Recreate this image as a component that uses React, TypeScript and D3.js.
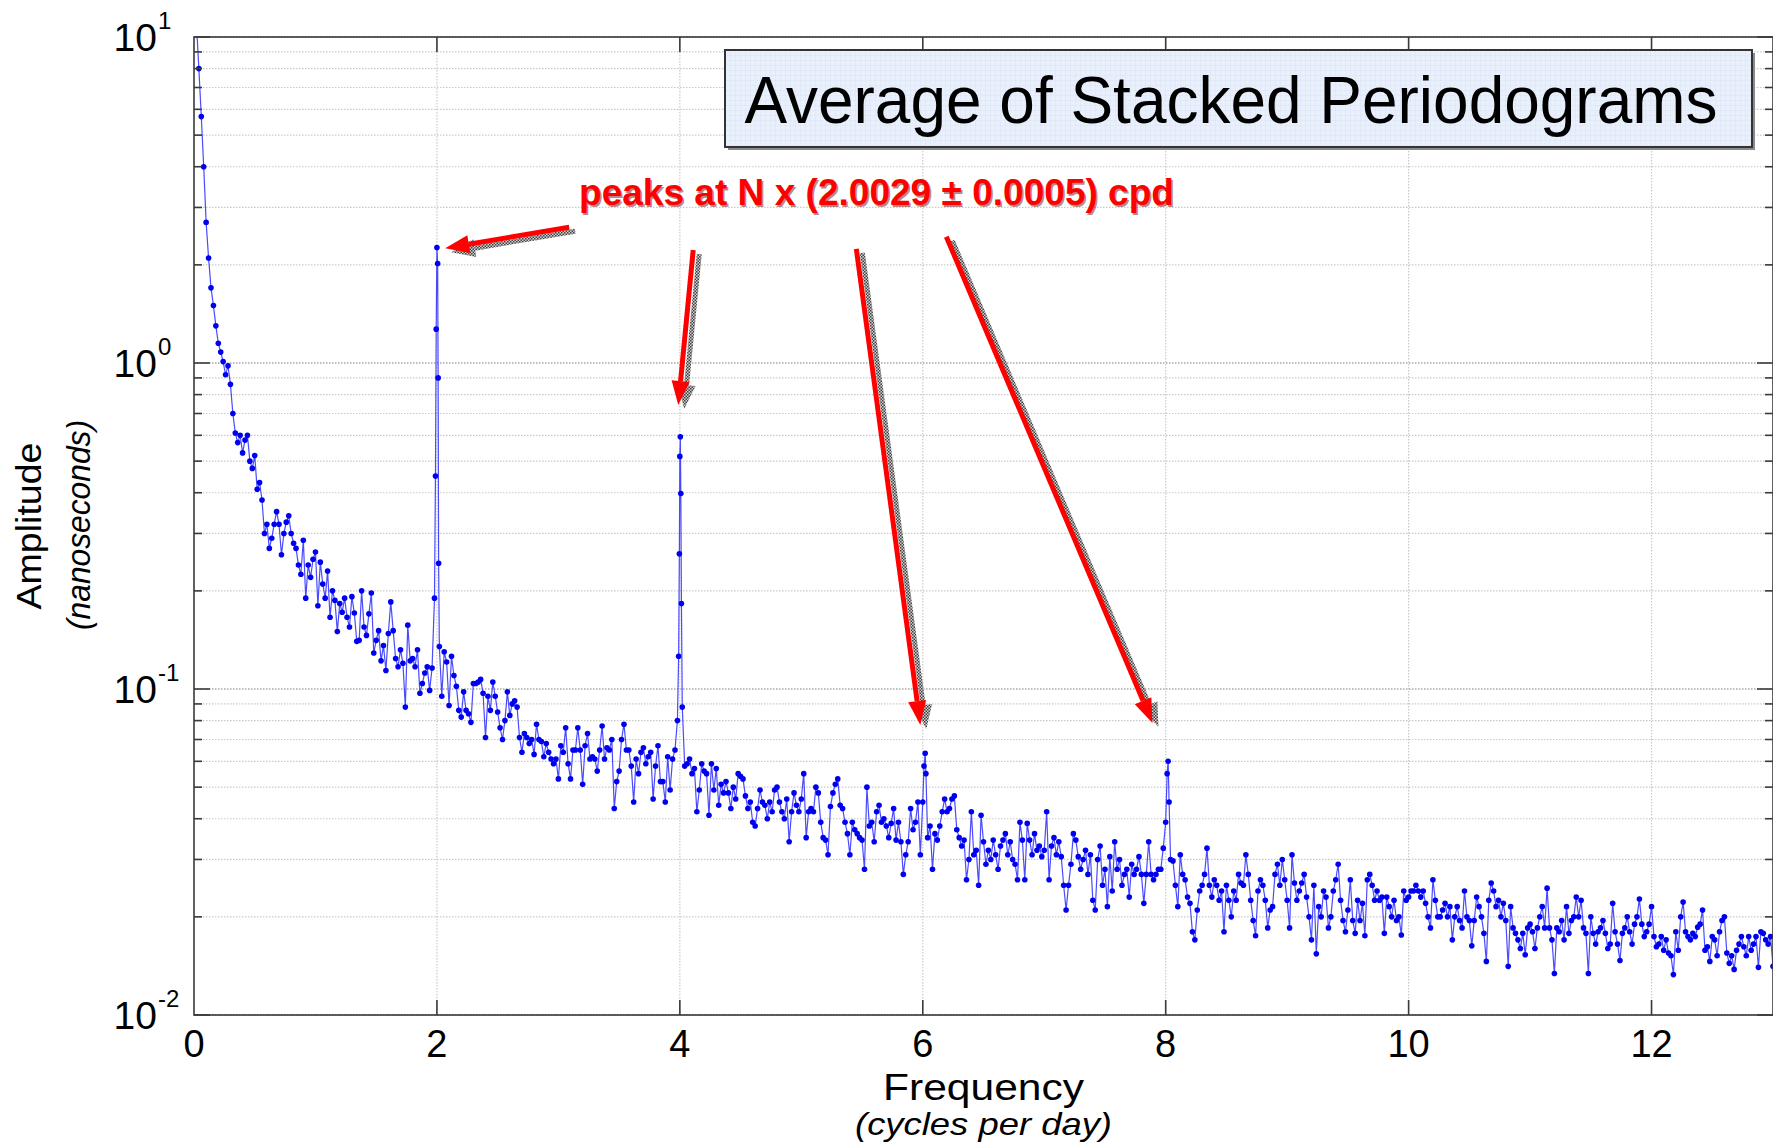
import React from "react";
import * as d3 from "d3";

// ---------------- data ----------------
const FREQ_STEP = 0.02; // cycles per day between samples, amplitude[i] is at i * FREQ_STEP

const amplitude: number[] = [
  16, 11, 8.0, 5.7, 4.0, 2.7, 2.1, 1.7, 1.5, 1.3,
  1.15, 1.08, 1.01, 0.92, 0.98, 0.86, 0.70, 0.61, 0.57, 0.60,
  0.53, 0.58, 0.60, 0.50, 0.475, 0.52, 0.41, 0.43, 0.38, 0.30,
  0.32, 0.27, 0.29, 0.32, 0.35, 0.32, 0.258, 0.30, 0.325, 0.34,
  0.30, 0.28, 0.27, 0.24, 0.225, 0.286, 0.19, 0.24, 0.22, 0.25,
  0.263, 0.18, 0.245, 0.21, 0.19, 0.23, 0.166, 0.20, 0.187, 0.15,
  0.183, 0.172, 0.19, 0.166, 0.155, 0.192, 0.171, 0.14, 0.141, 0.20,
  0.155, 0.146, 0.17, 0.197, 0.129, 0.141, 0.151, 0.122, 0.136, 0.114,
  0.148, 0.185, 0.151, 0.124, 0.117, 0.132, 0.12, 0.088, 0.157, 0.122,
  0.124, 0.117, 0.132, 0.097, 0.104, 0.112, 0.117, 0.099, 0.116, 0.19,
  2.26, 0.135, 0.095, 0.13, 0.121, 0.089, 0.126, 0.11, 0.102, 0.086,
  0.082, 0.098, 0.086, 0.084, 0.079, 0.104, 0.104, 0.105, 0.107, 0.097,
  0.071, 0.095, 0.086, 0.105, 0.095, 0.085, 0.076, 0.07, 0.08, 0.098,
  0.083, 0.09, 0.092, 0.088, 0.071, 0.064, 0.073, 0.071, 0.068, 0.07,
  0.063, 0.078, 0.07, 0.069, 0.062, 0.068, 0.064, 0.061, 0.059, 0.061,
  0.053, 0.067, 0.064, 0.076, 0.059, 0.053, 0.065, 0.065, 0.076, 0.065,
  0.051, 0.067, 0.073, 0.061, 0.062, 0.061, 0.056, 0.065, 0.077, 0.061,
  0.066, 0.065, 0.07, 0.043, 0.052, 0.056, 0.07, 0.078, 0.065, 0.065,
  0.058, 0.045, 0.061, 0.055, 0.064, 0.066, 0.059, 0.062, 0.064, 0.046,
  0.058, 0.067, 0.052, 0.052, 0.045, 0.062, 0.049, 0.061, 0.065, 0.08,
  0.517, 0.088, 0.058, 0.059, 0.061, 0.055, 0.057, 0.042, 0.049, 0.059,
  0.056, 0.055, 0.041, 0.059, 0.049, 0.057, 0.044, 0.051, 0.048, 0.052,
  0.048, 0.043, 0.05, 0.046, 0.055, 0.054, 0.053, 0.047, 0.043, 0.045,
  0.039, 0.038, 0.043, 0.049, 0.045, 0.044, 0.04, 0.045, 0.042, 0.049,
  0.05, 0.045, 0.042, 0.04, 0.046, 0.034, 0.042, 0.048, 0.044, 0.042,
  0.046, 0.055, 0.035, 0.042, 0.043, 0.042, 0.05, 0.048, 0.039, 0.035,
  0.0344, 0.031, 0.0436, 0.048, 0.051, 0.053, 0.044, 0.043, 0.039, 0.036,
  0.031, 0.039, 0.037, 0.036, 0.035, 0.0344, 0.028, 0.05, 0.038, 0.039,
  0.034, 0.042, 0.044, 0.039, 0.04, 0.038, 0.035, 0.0387, 0.043, 0.0344,
  0.039, 0.034, 0.027, 0.031, 0.034, 0.043, 0.037, 0.039, 0.045, 0.031,
  0.045, 0.0635, 0.035, 0.038, 0.028, 0.036, 0.0344, 0.038, 0.042, 0.046,
  0.042, 0.043, 0.046, 0.047, 0.037, 0.035, 0.033, 0.0344, 0.026, 0.03,
  0.042, 0.031, 0.032, 0.025, 0.041, 0.034, 0.029, 0.032, 0.03, 0.0344,
  0.031, 0.028, 0.033, 0.0344, 0.036, 0.031, 0.034, 0.03, 0.029, 0.026,
  0.039, 0.0344, 0.026, 0.0387, 0.0344, 0.031, 0.036, 0.032, 0.033, 0.0306,
  0.032, 0.042, 0.026, 0.033, 0.035, 0.031, 0.034, 0.0306, 0.025, 0.021,
  0.025, 0.029, 0.036, 0.0344, 0.0306, 0.028, 0.03, 0.032, 0.027, 0.031,
  0.0225, 0.021, 0.03, 0.033, 0.025, 0.028, 0.0215, 0.0306, 0.024, 0.034,
  0.028, 0.03, 0.025, 0.027, 0.028, 0.023, 0.029, 0.027, 0.028, 0.0306,
  0.027, 0.022, 0.027, 0.034, 0.027, 0.026, 0.027, 0.028, 0.028, 0.0325,
  0.039, 0.06, 0.03, 0.0297, 0.025, 0.0215, 0.031, 0.027, 0.026, 0.023,
  0.022, 0.018, 0.017, 0.021, 0.024, 0.025, 0.027, 0.0325, 0.025, 0.023,
  0.026, 0.025, 0.0225, 0.024, 0.018, 0.025, 0.0225, 0.02, 0.024, 0.0225,
  0.027, 0.0254, 0.025, 0.031, 0.027, 0.0225, 0.0195, 0.0175, 0.024, 0.026,
  0.025, 0.0225, 0.0185, 0.021, 0.0215, 0.027, 0.029, 0.025, 0.03, 0.026,
  0.0225, 0.0185, 0.031, 0.0254, 0.0225, 0.024, 0.0254, 0.027, 0.023, 0.02,
  0.017, 0.025, 0.0154, 0.0215, 0.02, 0.024, 0.023, 0.0185, 0.02, 0.024,
  0.026, 0.029, 0.0225, 0.0195, 0.018, 0.021, 0.026, 0.0195, 0.0178, 0.0225,
  0.0195, 0.022, 0.0175, 0.026, 0.027, 0.025, 0.0225, 0.024, 0.0225, 0.023,
  0.0178, 0.023, 0.0215, 0.02, 0.0225, 0.0195, 0.02, 0.0176, 0.024, 0.0225,
  0.023, 0.024, 0.024, 0.025, 0.024, 0.023, 0.024, 0.022, 0.02, 0.0185,
  0.026, 0.0225, 0.02, 0.02, 0.021, 0.022, 0.02, 0.0215, 0.017, 0.02,
  0.0215, 0.0195, 0.0185, 0.024, 0.02, 0.0195, 0.0163, 0.0195, 0.023, 0.0215,
  0.02, 0.0178, 0.0146, 0.0225, 0.0254, 0.024, 0.0215, 0.0225, 0.02, 0.022,
  0.0195, 0.0141, 0.0215, 0.0185, 0.0178, 0.017, 0.016, 0.0178, 0.0153, 0.0185,
  0.019, 0.018, 0.016, 0.0185, 0.02, 0.0215, 0.0185, 0.0245, 0.0185, 0.017,
  0.0134, 0.0185, 0.018, 0.0195, 0.017, 0.0215, 0.0178, 0.0195, 0.02, 0.023,
  0.02, 0.0225, 0.0185, 0.0178, 0.0134, 0.02, 0.0178, 0.0165, 0.018, 0.0185,
  0.0195, 0.0178, 0.016, 0.0165, 0.022, 0.018, 0.0165, 0.0147, 0.0178, 0.0185,
  0.02, 0.018, 0.0165, 0.019, 0.02, 0.0227, 0.019, 0.0174, 0.018, 0.019,
  0.0215, 0.0174, 0.0162, 0.0165, 0.0174, 0.0158, 0.017, 0.0155, 0.0152, 0.0133,
  0.018, 0.0158, 0.02, 0.0222, 0.018, 0.0174, 0.017, 0.0178, 0.0174, 0.0186,
  0.019, 0.021, 0.0158, 0.0162, 0.0146, 0.0174, 0.017, 0.0152, 0.018, 0.0195,
  0.02, 0.0155, 0.0144, 0.0152, 0.0138, 0.0158, 0.0165, 0.0174, 0.0162, 0.0152,
  0.0174, 0.0158, 0.0165, 0.0174, 0.014, 0.018, 0.0178, 0.017, 0.0165, 0.0174, 0.0141,
];

// extra samples on the narrow peaks (frequency in cpd, amplitude in ns)
const peakFreqs = [1.988, 1.994, 2.006, 2.010, 2.014, 3.990, 3.996, 4.004, 4.008, 4.013, 6.010, 6.026, 8.012, 8.028];
const peakAmps = [0.45, 1.27, 2.02, 0.9, 0.243, 0.126, 0.26, 0.594, 0.398, 0.183, 0.058, 0.055, 0.055, 0.045];

const xTicks = [0, 2, 4, 6, 8, 10, 12];
const yDecades = [-2, -1, 0, 1];

const titleText = "Average of Stacked Periodograms";
const noteText = "peaks at N x (2.0029 \u00b1 0.0005) cpd";
// annotation arrows, data coordinates [freq, amplitude]
const arrowTails = [[3.089, 2.61], [4.11, 2.22], [5.453, 2.24], [6.194, 2.44]];
const arrowTips = [[2.068, 2.25], [3.987, 0.743], [5.98, 0.0776], [7.891, 0.0787]];

// ---------------- layout ----------------
const W = 1773;
const H = 1145;
const M = { left: 194, right: 1773, top: 37, bottom: 1015 };
const FONT = "'Liberation Sans', Arial, Helvetica, sans-serif";

type Pt = { f: number; a: number };

export default function App() {
  const x = d3.scaleLinear().domain([0, 13]).range([M.left, M.right]);
  const y = d3.scaleLog().domain([0.01, 10]).range([M.bottom, M.top]);

  const pts: Pt[] = amplitude
    .map((a, i) => ({ f: +(i * FREQ_STEP).toFixed(4), a }))
    .concat(peakFreqs.map((f, i) => ({ f, a: peakAmps[i] })))
    .sort((p, q) => p.f - q.f);

  const line = d3
    .line<Pt>()
    .x((d) => x(d.f))
    .y((d) => y(d.a));

  const minorVals: number[] = [];
  const majorVals: number[] = [];
  yDecades.forEach((d) => {
    majorVals.push(Math.pow(10, d));
    if (d < 1) for (let k = 2; k <= 9; k++) minorVals.push(k * Math.pow(10, d));
  });

  const plotW = M.right - M.left;
  const plotH = M.bottom - M.top;

  // arrows
  const arrows = arrowTails.map((t, i) => {
    const x1 = x(t[0]);
    const y1 = y(t[1]);
    const x2 = x(arrowTips[i][0]);
    const y2 = y(arrowTips[i][1]);
    const dx = x2 - x1;
    const dy = y2 - y1;
    const len = Math.hypot(dx, dy);
    const ux = dx / len;
    const uy = dy / len;
    const L = 24;
    const hw = 9;
    const bx = x2 - ux * L;
    const by = y2 - uy * L;
    const head = [
      [x2, y2],
      [bx - uy * hw, by + ux * hw],
      [bx + uy * hw, by - ux * hw],
    ];
    return { x1, y1, bx, by, head };
  });
  const SH = { dx: 6, dy: 4 };

  return (
    <svg
      width={W}
      height={H}
      viewBox={`0 0 ${W} ${H}`}
      style={{ position: "absolute", left: 0, top: 0, display: "block", background: "#fff" }}
      fontFamily={FONT}
    >
      <defs>
        <clipPath id="plotClip">
          <rect x={M.left} y={M.top} width={plotW} height={plotH} />
        </clipPath>
        <pattern id="boxGrid" width="5" height="5" patternUnits="userSpaceOnUse">
          <rect width="5" height="5" fill="#e9f0fc" />
          <path d="M5 0 L0 0 0 5" fill="none" stroke="#d5e1f5" strokeWidth="0.8" />
        </pattern>
        <pattern id="checker" width="3" height="3" patternUnits="userSpaceOnUse">
          <rect width="3" height="3" fill="#d0d0d0" />
          <rect width="1.5" height="1.5" fill="#404040" />
          <rect x="1.5" y="1.5" width="1.5" height="1.5" fill="#404040" />
        </pattern>
      </defs>

      <rect x={0} y={0} width={W} height={H} fill="#fff" />

      {/* grid */}
      <g fill="none">
        {minorVals.map((v, i) => (
          <line key={"gm" + i} x1={M.left} x2={M.right} y1={y(v)} y2={y(v)} stroke="#c9c9c9" strokeWidth={1.2} strokeDasharray="1.5 1.5" />
        ))}
        {majorVals.map((v, i) => (
          <line key={"gM" + i} x1={M.left} x2={M.right} y1={y(v)} y2={y(v)} stroke="#a8a8a8" strokeWidth={1.3} strokeDasharray="1.5 1.5" />
        ))}
        {xTicks.slice(1).map((t) => (
          <line key={"gx" + t} x1={x(t)} x2={x(t)} y1={M.top} y2={M.bottom} stroke="#c9c9c9" strokeWidth={1.2} strokeDasharray="1.5 1.5" />
        ))}
      </g>

      {/* data */}
      <g clipPath="url(#plotClip)">
        <path d={line(pts) || ""} fill="none" stroke="#2a2aff" strokeWidth={1.2} strokeOpacity={0.85} />
        {pts.map((p, i) => (
          <circle key={"p" + i} cx={x(p.f)} cy={y(p.a)} r={2.8} fill="#0000f0" />
        ))}
      </g>

      {/* axes frame and ticks */}
      <g stroke="#3a3a3a" strokeWidth={1.6} fill="none">
        <rect x={M.left} y={M.top} width={plotW} height={plotH} />
        {majorVals.map((v, i) => (
          <g key={"tM" + i}>
            <line x1={M.left} x2={M.left + 16} y1={y(v)} y2={y(v)} />
            <line x1={M.right} x2={M.right - 16} y1={y(v)} y2={y(v)} />
          </g>
        ))}
        {minorVals.map((v, i) => (
          <g key={"tm" + i}>
            <line x1={M.left} x2={M.left + 8} y1={y(v)} y2={y(v)} />
            <line x1={M.right} x2={M.right - 8} y1={y(v)} y2={y(v)} />
          </g>
        ))}
        {xTicks.slice(1).map((t) => (
          <g key={"tx" + t}>
            <line x1={x(t)} x2={x(t)} y1={M.bottom} y2={M.bottom - 15} />
            <line x1={x(t)} x2={x(t)} y1={M.top} y2={M.top + 15} />
          </g>
        ))}
      </g>

      {/* tick labels */}
      <g fill="#000">
        {xTicks.map((t) => (
          <text key={"lx" + t} x={x(t)} y={M.bottom + 42} fontSize={38} textAnchor="middle">
            {t}
          </text>
        ))}
        {yDecades.map((d) => (
          <g key={"ly" + d}>
            <text x={M.left - 37} y={y(Math.pow(10, d)) + 14} fontSize={39} textAnchor="end">
              10
            </text>
            <text x={M.left - 36} y={y(Math.pow(10, d)) - 8} fontSize={24} textAnchor="start">
              {d < 0 ? "-" + Math.abs(d) : String(d)}
            </text>
          </g>
        ))}
      </g>

      {/* axis labels */}
      <g fill="#000">
        <text x={(M.left + M.right) / 2} y={1100} fontSize={37} textAnchor="middle" textLength={201} lengthAdjust="spacingAndGlyphs">
          Frequency
        </text>
        <text x={(M.left + M.right) / 2} y={1135} fontSize={32} fontStyle="italic" textAnchor="middle" textLength={257} lengthAdjust="spacingAndGlyphs">
          (cycles per day)
        </text>
        <text transform="translate(41,526) rotate(-90)" fontSize={35} textAnchor="middle" textLength={167} lengthAdjust="spacingAndGlyphs">
          Amplitude
        </text>
        <text transform="translate(90,525) rotate(-90)" fontSize={33} fontStyle="italic" textAnchor="middle" textLength={210} lengthAdjust="spacingAndGlyphs">
          (nanoseconds)
        </text>
      </g>

      {/* title box */}
      <g>
        <rect x={728} y={53} width={1027} height={97} fill="#8a8a8a" />
        <rect x={725} y={50} width={1027} height={97} fill="url(#boxGrid)" stroke="#333" strokeWidth={2} />
        <text x={1231} y={123} fontSize={66} textAnchor="middle" textLength={973} lengthAdjust="spacingAndGlyphs" fill="#000">
          {titleText}
        </text>
      </g>

      {/* annotation arrows */}
      <g>
        {arrows.map((a, i) => (
          <g key={"as" + i} transform={`translate(${SH.dx},${SH.dy})`}>
            <line x1={a.x1} y1={a.y1} x2={a.bx} y2={a.by} stroke="url(#checker)" strokeWidth={5} />
            <polygon points={a.head.map((p) => p.join(",")).join(" ")} fill="url(#checker)" />
          </g>
        ))}
        {arrows.map((a, i) => (
          <g key={"ar" + i}>
            <line x1={a.x1} y1={a.y1} x2={a.bx} y2={a.by} stroke="#ff0000" strokeWidth={5} />
            <polygon points={a.head.map((p) => p.join(",")).join(" ")} fill="#ff0000" />
          </g>
        ))}
      </g>

      {/* red note */}
      <g fontWeight="bold" fontSize={36}>
        <text x={580.5} y={206.5} textLength={595} lengthAdjust="spacingAndGlyphs" fill="#5a0000" opacity={0.45}>
          {noteText}
        </text>
        <text x={579} y={205} textLength={595} lengthAdjust="spacingAndGlyphs" fill="#ff0000">
          {noteText}
        </text>
      </g>
    </svg>
  );
}
